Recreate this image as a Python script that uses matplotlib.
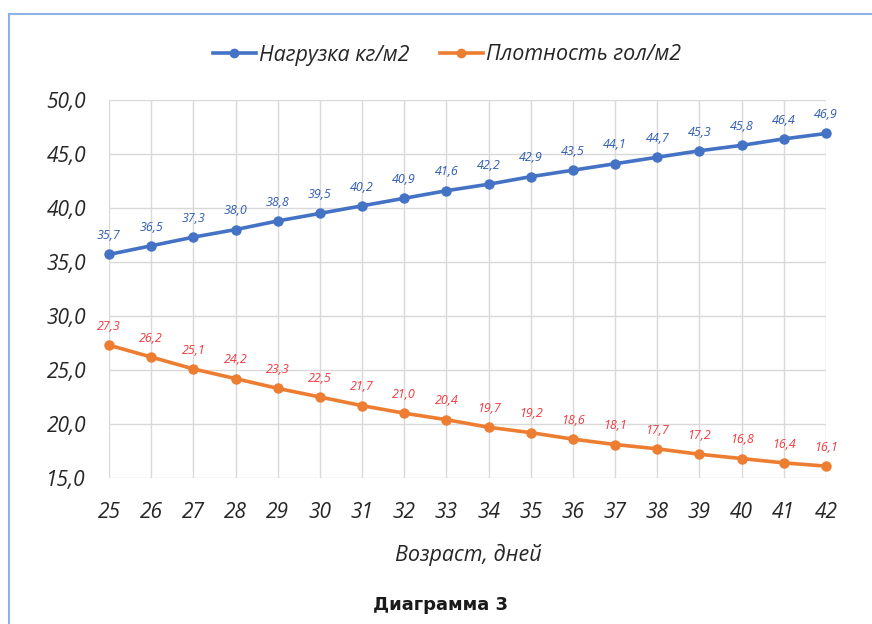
import numpy as np
import matplotlib
matplotlib.use('Agg')
import matplotlib.pyplot as plt
from matplotlib.lines import Line2D

plt.rcParams['font.family'] = ['Open Sans', 'DejaVu Sans']

days = list(range(25, 43))
load = [35.7, 36.5, 37.3, 38.0, 38.8, 39.5, 40.2, 40.9, 41.6, 42.2,
        42.9, 43.5, 44.1, 44.7, 45.3, 45.8, 46.4, 46.9]
density = [27.3, 26.2, 25.1, 24.2, 23.3, 22.5, 21.7, 21.0, 20.4, 19.7,
           19.2, 18.6, 18.1, 17.7, 17.2, 16.8, 16.4, 16.1]
series_names = ['Нагрузка кг/м2', 'Плотность гол/м2']
y_ticks = [15, 20, 25, 30, 35, 40, 45, 50]

blue = '#4472C4'
orange = '#ED7D31'
blue_lbl = '#2F5CB4'
red_lbl = '#F23A3F'

fig = plt.figure(figsize=(8.72, 6.24), dpi=100)
ax = fig.add_axes([109/872, 1 - 478/624, (826 - 109)/872, (478 - 100)/624])

ax.plot(days, load, color=blue, lw=2.6, marker='o', ms=6.5, zorder=3, clip_on=False)
ax.plot(days, density, color=orange, lw=2.6, marker='o', ms=6.5, zorder=3, clip_on=False)

for x, v in zip(days, load):
    ax.annotate(f'{v:.1f}'.replace('.', ','), (x, v), xytext=(0, 13.5), textcoords='offset points',
                ha='center', va='center', fontsize=9, style='italic', color=blue_lbl)
for x, v in zip(days, density):
    ax.annotate(f'{v:.1f}'.replace('.', ','), (x, v), xytext=(0, 13.5), textcoords='offset points',
                ha='center', va='center', fontsize=9, style='italic', color=red_lbl)

ax.set_xlim(25, 42)
ax.set_ylim(15, 50)
ax.set_xticks(days)
ax.set_xticklabels([str(d) for d in days], fontsize=15, style='italic', color='#262626')
ax.set_yticks(y_ticks)
ax.set_yticklabels([f'{t:.1f}'.replace('.', ',') for t in y_ticks], fontsize=15,
                   style='italic', color='#262626')
ax.tick_params(length=0)
ax.tick_params(axis='x', pad=17)
ax.tick_params(axis='y', pad=16.5)
ax.grid(True, color='#D9D9D9', lw=1.0)
ax.set_axisbelow(True)
for s in ax.spines.values():
    s.set_visible(False)

fig.text(468/872, 1 - 555/624, 'Возраст, дней', ha='center', va='center',
         fontsize=15.5, style='italic', color='#262626')
fig.text(440/872, 1 - 605/624, 'Диаграмма 3', ha='center', va='center',
         fontsize=13, fontweight='bold', family=['DejaVu Sans'], color='#1a1a1a')

handles = [Line2D([], [], color=blue, lw=2.6, marker='o', ms=6),
           Line2D([], [], color=orange, lw=2.6, marker='o', ms=6)]
fig.legend(handles, series_names, loc='center', bbox_to_anchor=(447/872, 1 - 55/624), ncol=2,
           frameon=False, prop={'size': 15.5, 'style': 'italic'}, handlelength=2.0,
           handletextpad=0.15, columnspacing=1.4, labelcolor='#262626')

# frame
fig.add_artist(Line2D([9/872, 9/872], [0, 1 - 14/624], color='#8DB3E2', lw=1.5,
                      transform=fig.transFigure))
fig.add_artist(Line2D([9/872, 1], [1 - 14/624, 1 - 14/624], color='#8DB3E2', lw=1.5,
                      transform=fig.transFigure))

fig.savefig('out.png', dpi=100)
